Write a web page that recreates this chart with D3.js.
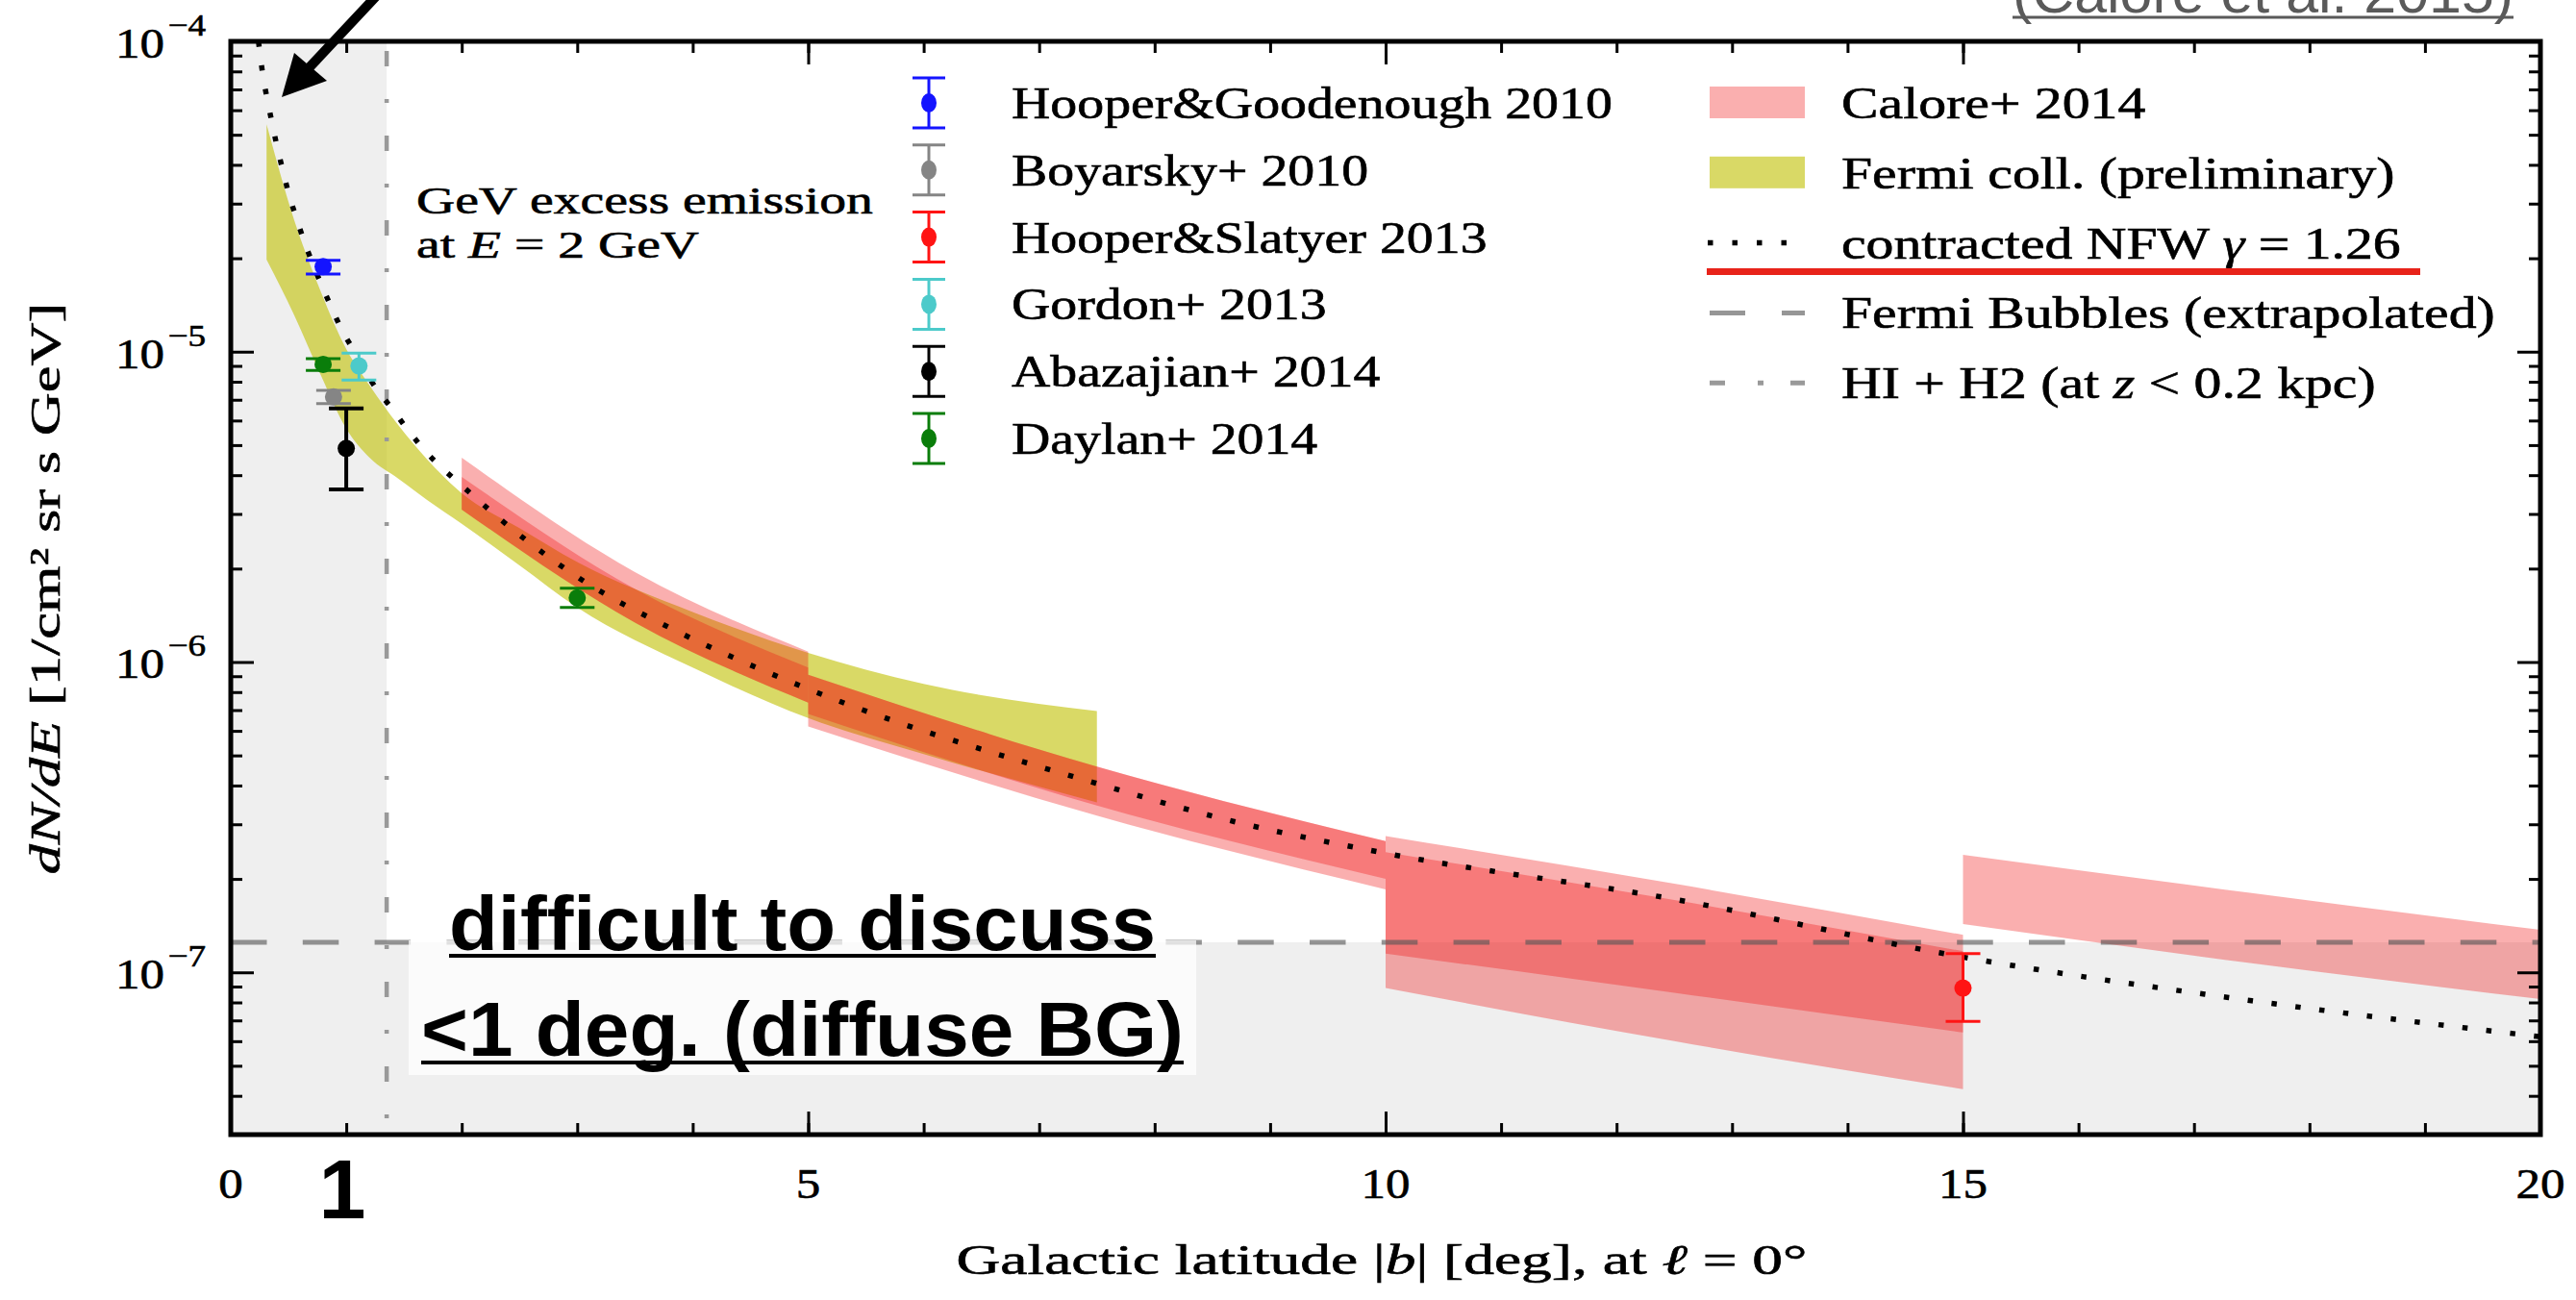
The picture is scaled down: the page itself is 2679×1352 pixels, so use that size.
<!DOCTYPE html>
<html lang="en">
<head>
  <meta charset="UTF-8">
  <title>GeV excess vs latitude</title>
  <script src="https://cdn.jsdelivr.net/npm/d3@7"></script>
  <style>
    body { margin: 0; background: #fff; }
    svg { display: block; }
    .serif { font-family: 'Liberation Serif', 'Times New Roman', serif; stroke: #000; stroke-width: 0.6px; }
    .sans { font-family: 'Liberation Sans', Arial, sans-serif; }
  </style>
</head>
<body>
  <svg width="2679" height="1352"></svg>
  <script>
    // |b| in deg, dN/dE in 1/(cm2 sr s GeV) at E = 2 GeV

    // contracted NFW gamma = 1.26
    var nfwB = [0.24, 0.28, 0.32, 0.36, 0.40, 0.45, 0.50, 0.56, 0.63, 0.78, 0.86, 0.95, 1.05, 1.26, 1.39, 1.51, 1.64, 2.09, 2.57, 3.09, 3.80, 4.96, 7.49, 8.69, 10, 12.5, 15, 17.5, 20]
    var nfwFlux = [1.0e-4, 7.7e-5, 6.4e-5, 5.4e-5, 4.6e-5, 3.85e-5, 3.25e-5, 2.75e-5, 2.3e-5, 1.66e-5, 1.42e-5, 1.2e-5, 1.03e-5, 7.6e-6, 6.6e-6, 5.75e-6, 5.0e-6, 3.46e-6, 2.45e-6, 1.79e-6, 1.29e-6, 8.3e-7, 4.07e-7, 3.06e-7, 2.42e-7, 1.72e-7, 1.12e-7, 8.1e-8, 6.2e-8]

    // Fermi coll. (preliminary) band
    var fermiB = [0.31, 0.55, 0.78, 1.0, 1.2, 1.45, 1.7, 2.0, 2.5, 3.0, 4.0, 5.0, 6.0, 7.5]
    var fermiHi = [5.4e-5, 2.65e-5, 1.56e-5, 1.02e-5, 7.8e-6, 5.8e-6, 4.5e-6, 3.5e-6, 2.7e-6, 2.1e-6, 1.45e-6, 1.07e-6, 8.5e-7, 6.95e-7]
    var fermiLo = [1.98e-5, 1.31e-5, 8.4e-6, 5.65e-6, 4.56e-6, 3.9e-6, 3.33e-6, 2.79e-6, 2.05e-6, 1.5e-6, 9.6e-7, 6.6e-7, 5.05e-7, 3.53e-7]

    // Calore+ 2014: two overlapping ranges (a, b) per latitude bin
    var calB = [[2, 3.5, 5], [5, 7.5, 10], [10, 12.5, 15], [15, 17.5, 20]]
    var calAHi = [[4.55e-6, 1.95e-6, 1.08e-6], [9.1e-7, 4.6e-7, 2.65e-7], [2.75e-7, 1.93e-7, 1.32e-7], [2.39e-7, 1.8e-7, 1.37e-7]]
    var calALo = [[3.1e-6, 1.34e-6, 7.4e-7], [6.2e-7, 3.2e-7, 1.85e-7], [1.15e-7, 8.6e-8, 6.4e-8], [1.43e-7, 1.07e-7, 8.2e-8]]
    var calBHi = [[3.95e-6, 1.72e-6, 9.6e-7], [9.1e-7, 4.6e-7, 2.65e-7], [2.44e-7, 1.71e-7, 1.17e-7], null]
    var calBLo = [[3.1e-6, 1.34e-6, 7.4e-7], [6.8e-7, 3.45e-7, 2.0e-7], [8.9e-8, 6.0e-8, 4.2e-8], null]

    // measurements with error bars
    var refs = ['Hooper&Goodenough 2010', 'Boyarsky+ 2010', 'Hooper&Slatyer 2013', 'Gordon+ 2013', 'Abazajian+ 2014', 'Daylan+ 2014']
    var refColors = ['#1414ff', '#858585', '#ff1414', '#4ccaca', '#000000', '#0a7d0a']
    var ptB = [[0.80], [0.89], [15.0], [1.11], [1.0], [0.80, 3.0]]
    var ptFlux = [[1.88e-5], [7.15e-6], [8.9e-8], [9.0e-6], [4.88e-6], [9.1e-6, 1.61e-6]]
    var ptLo = [[1.78e-5], [6.8e-6], [6.95e-8], [8.1e-6], [3.6e-6], [8.7e-6, 1.5e-6]]
    var ptHi = [[1.97e-5], [7.5e-6], [1.15e-7], [9.9e-6], [6.56e-6], [9.5e-6, 1.73e-6]]

    var bubbleLevel = 1.25e-7   // Fermi Bubbles (extrapolated)
    var hiH2Edge = 1.35         // HI + H2 (at z < 0.2 kpc)

    var xMajor = [0, 5, 10, 15, 20]
    var xMinor = d3.range(0, 21)
    var yMajor = [1e-7, 1e-6, 1e-5, 1e-4]

    var RED = '#f01414'
    var YEL = '#bfbf00'

    var svg = d3.select('svg')
    var x = d3.scaleLinear().domain([0, 20]).range([240, 2642])
    var y = d3.scaleLog().domain([3e-8, 1e-4]).range([1180, 43])
    var X0 = x.range()[0], X1 = x.range()[1], Y0 = y.range()[1], Y1 = y.range()[0]

    svg.append('defs').append('clipPath').attr('id', 'plot')
      .append('rect').attr('x', X0).attr('y', Y0).attr('width', X1 - X0).attr('height', Y1 - Y0)
    var plot = svg.append('g').attr('clip-path', 'url(#plot)')

    // shaded regions
    plot.append('rect').attr('x', X0).attr('y', Y0)
      .attr('width', x(hiH2Edge) - X0).attr('height', Y1 - Y0).attr('fill', '#efefef')
    plot.append('rect').attr('x', X0).attr('y', y(bubbleLevel))
      .attr('width', X1 - X0).attr('height', Y1 - y(bubbleLevel)).attr('fill', '#efefef')

    var area = d3.area()
      .x(d => x(d[0])).y0(d => y(d[1])).y1(d => y(d[2]))
      .curve(d3.curveMonotoneX)

    plot.append('path')
      .datum(d3.zip(fermiB, fermiLo, fermiHi))
      .attr('d', area).attr('fill', YEL).attr('fill-opacity', 0.6)

    calB.forEach((b, i) => {
      plot.append('path')
        .datum(d3.zip(b, calALo[i], calAHi[i]))
        .attr('d', area).attr('fill', RED).attr('fill-opacity', 0.34)
      if (calBLo[i]) {
        plot.append('path')
          .datum(d3.zip(b, calBLo[i], calBHi[i]))
          .attr('d', area).attr('fill', RED).attr('fill-opacity', 0.34)
      }
    })

    // Fermi bubbles level
    plot.append('line')
      .attr('x1', X0).attr('x2', X1)
      .attr('y1', y(bubbleLevel)).attr('y2', y(bubbleLevel))
      .attr('stroke', '#555').attr('stroke-opacity', 0.62)
      .attr('stroke-width', 5).attr('stroke-dasharray', '37.5 37.3')

    // HI + H2 boundary
    plot.append('line')
      .attr('x1', x(hiH2Edge)).attr('x2', x(hiH2Edge))
      .attr('y1', Y0).attr('y2', Y1)
      .attr('stroke', '#999').attr('stroke-width', 4.5)
      .attr('stroke-dasharray', '16 34 4 34').attr('stroke-dashoffset', -10)

    // NFW profile
    var line = d3.line().x(d => x(d[0])).y(d => y(d[1])).curve(d3.curveMonotoneX)
    plot.append('path')
      .datum(d3.zip(nfwB, nfwFlux))
      .attr('d', line).attr('fill', 'none')
      .attr('stroke', '#000').attr('stroke-width', 5.5)
      .attr('stroke-dasharray', '5.5 19.5')

    // error bars
    refs.forEach((r, i) => {
      var pts = d3.zip(ptB[i], ptFlux[i], ptLo[i], ptHi[i])
      var g = plot.append('g').attr('stroke', refColors[i]).attr('fill', refColors[i])
        .attr('stroke-width', i == 4 ? 4 : 3)
      pts.forEach(p => {
        var cx = x(p[0])
        g.append('line').attr('x1', cx).attr('x2', cx).attr('y1', y(p[2])).attr('y2', y(p[3]))
        g.append('line').attr('x1', cx - 18).attr('x2', cx + 18).attr('y1', y(p[2])).attr('y2', y(p[2]))
        g.append('line').attr('x1', cx - 18).attr('x2', cx + 18).attr('y1', y(p[3])).attr('y2', y(p[3]))
        g.append('circle').attr('cx', cx).attr('cy', y(p[1])).attr('r', 9).attr('stroke', 'none')
      })
    })

    // slide overlay box behind the note
    svg.append('rect').attr('x', 425).attr('y', 978).attr('width', 819).attr('height', 140)
      .attr('fill', '#fff').attr('fill-opacity', 0.72)

    // frame and ticks
    var frame = svg.append('g')
    function ticks(axis, tr, size) {
      frame.append('g').attr('transform', tr)
        .call(axis.tickSizeInner(size).tickSizeOuter(0).tickFormat(''))
        .call(g => g.select('.domain').remove())
        .call(g => g.selectAll('line').attr('stroke', '#000').attr('stroke-width', 3))
    }
    var yMinor = []
    d3.range(-8, -4).forEach(e => d3.range(2, 10).forEach(m => {
      var v = m * Math.pow(10, e)
      if (v > 3.01e-8 && v < 1e-4) yMinor.push(v)
    }))
    ticks(d3.axisBottom(x).tickValues(xMajor), `translate(0,${Y1})`, -24)
    ticks(d3.axisBottom(x).tickValues(xMinor), `translate(0,${Y1})`, -12)
    ticks(d3.axisTop(x).tickValues(xMajor), `translate(0,${Y0})`, -24)
    ticks(d3.axisTop(x).tickValues(xMinor), `translate(0,${Y0})`, -12)
    ticks(d3.axisLeft(y).tickValues(yMajor), `translate(${X0},0)`, -24)
    ticks(d3.axisLeft(y).tickValues(yMinor), `translate(${X0},0)`, -12)
    ticks(d3.axisRight(y).tickValues(yMajor), `translate(${X1},0)`, -24)
    ticks(d3.axisRight(y).tickValues(yMinor), `translate(${X1},0)`, -12)
    frame.append('rect').attr('x', X0).attr('y', Y0).attr('width', X1 - X0).attr('height', Y1 - Y0)
      .attr('fill', 'none').attr('stroke', '#000').attr('stroke-width', 5)

    var SX = 1.16
    frame.selectAll('.xl').data(xMajor).join('text')
      .attr('class', 'serif').attr('font-size', 44).attr('text-anchor', 'middle')
      .attr('transform', d => `translate(${x(d)},1246) scale(${SX},1)`)
      .text(d => d)

    var yl = frame.selectAll('.yl').data(yMajor).join('text')
      .attr('class', 'serif').attr('font-size', 44).attr('text-anchor', 'end')
      .attr('transform', d => `translate(214,${y(d) + 17}) scale(${SX},1)`)
    yl.append('tspan').text('10')
    yl.append('tspan').attr('dy', -23).attr('font-size', 32).attr('dx', 3)
      .text(d => '\u2212' + Math.round(-Math.log10(d)))

    function fit(t, w) {
      return w / t.node().getComputedTextLength()
    }

    // axis titles
    var xt = svg.append('text').attr('class', 'serif').attr('font-size', 44).attr('text-anchor', 'middle')
    xt.append('tspan').text('Galactic latitude |')
    xt.append('tspan').attr('font-style', 'italic').text('b')
    xt.append('tspan').text('| [deg], at ')
    xt.append('tspan').attr('font-style', 'italic').text('\u2113')
    xt.append('tspan').text(' = 0\u00b0')
    xt.attr('transform', `translate(1437,1325) scale(${fit(xt, 885)},1)`)

    var yt = svg.append('text').attr('class', 'serif').attr('font-size', 44).attr('text-anchor', 'middle')
    yt.append('tspan').attr('font-style', 'italic').text('dN/dE')
    yt.append('tspan').text(' [1/cm\u00b2 sr s GeV]')
    yt.attr('transform', `translate(62,612) rotate(-90) scale(${fit(yt, 595)},1)`)

    // GeV note
    var n1 = svg.append('text').attr('class', 'serif').attr('font-size', 41).text('GeV excess emission')
    var ns = fit(n1, 475)
    n1.attr('transform', `translate(433,222) scale(${ns},1)`)
    var n2 = svg.append('text').attr('class', 'serif').attr('font-size', 41)
      .attr('transform', `translate(433,268) scale(${ns},1)`)
    n2.append('tspan').text('at ')
    n2.append('tspan').attr('font-style', 'italic').text('E')
    n2.append('tspan').text(' = 2 GeV')

    // legend: measurements
    var leg1 = svg.append('g')
    var LS1 = 1
    refs.forEach((r, i) => {
      var cy = 107 + i * 69.8
      var g = leg1.append('g').attr('stroke', refColors[i]).attr('fill', refColors[i]).attr('stroke-width', 3)
      g.append('line').attr('x1', 966).attr('x2', 966).attr('y1', cy - 26).attr('y2', cy + 26)
      g.append('line').attr('x1', 949).attr('x2', 983).attr('y1', cy - 26).attr('y2', cy - 26)
      g.append('line').attr('x1', 949).attr('x2', 983).attr('y1', cy + 26).attr('y2', cy + 26)
      g.append('ellipse').attr('cx', 966).attr('cy', cy).attr('rx', 8).attr('ry', 10).attr('stroke', 'none')
      var t = leg1.append('text').attr('class', 'serif').attr('font-size', 46).text(r)
      if (i == 0) LS1 = fit(t, 625)
      t.attr('transform', `translate(1052,${cy + 16}) scale(${LS1},1)`)
    })

    // legend: bands and lines
    var leg2 = svg.append('g')
    var rowY = i => 107 + i * 72.8
    leg2.append('rect').attr('x', 1778).attr('y', rowY(0) - 17).attr('width', 99).attr('height', 33)
      .attr('fill', RED).attr('fill-opacity', 0.34)
    leg2.append('rect').attr('x', 1778).attr('y', rowY(1) - 17).attr('width', 99).attr('height', 33)
      .attr('fill', YEL).attr('fill-opacity', 0.6)
    leg2.append('line').attr('x1', 1776).attr('x2', 1862).attr('y1', rowY(2)).attr('y2', rowY(2))
      .attr('stroke', '#000').attr('stroke-width', 5.5).attr('stroke-dasharray', '5.5 20')
    leg2.append('line').attr('x1', 1778).attr('x2', 1877).attr('y1', rowY(3)).attr('y2', rowY(3))
      .attr('stroke', '#555').attr('stroke-opacity', 0.62).attr('stroke-width', 5).attr('stroke-dasharray', '37 38')
    leg2.append('line').attr('x1', 1778).attr('x2', 1877).attr('y1', rowY(4)).attr('y2', rowY(4))
      .attr('stroke', '#999').attr('stroke-width', 5).attr('stroke-dasharray', '16 34 6 28 16')

    var legTexts = []
    function legText(i) {
      var t = leg2.append('text').attr('class', 'serif').attr('font-size', 46)
      legTexts.push([t, i])
      return t
    }
    legText(0).text('Calore+ 2014')
    legText(1).text('Fermi coll. (preliminary)')
    var t2 = legText(2)
    t2.append('tspan').text('contracted NFW ')
    t2.append('tspan').attr('font-style', 'italic').text('\u03b3')
    t2.append('tspan').text(' = 1.26')
    var t3 = legText(3).text('Fermi Bubbles (extrapolated)')
    var t4 = legText(4)
    t4.append('tspan').text('HI + H2 (at ')
    t4.append('tspan').attr('font-style', 'italic').text('z')
    t4.append('tspan').text(' < 0.2 kpc)')
    var LS2 = fit(t3, 680)
    legTexts.forEach(d => d[0].attr('transform', `translate(1915,${rowY(d[1]) + 16}) scale(${LS2},1)`))

    // slide annotations
    var note = svg.append('g')
    note.append('rect').attr('x', 1775).attr('y', 279).attr('width', 742).attr('height', 7).attr('fill', '#e8231a')

    note.append('text').attr('class', 'sans').attr('font-size', 80).attr('font-weight', 'bold')
      .attr('x', 467).attr('y', 988).attr('textLength', 735).attr('lengthAdjust', 'spacingAndGlyphs')
      .text('difficult to discuss')
    note.append('line').attr('x1', 467).attr('x2', 1202).attr('y1', 994).attr('y2', 994)
      .attr('stroke', '#000').attr('stroke-width', 4)
    note.append('text').attr('class', 'sans').attr('font-size', 80).attr('font-weight', 'bold')
      .attr('x', 438).attr('y', 1098).attr('textLength', 793).attr('lengthAdjust', 'spacingAndGlyphs')
      .text('<1 deg. (diffuse BG)')
    note.append('line').attr('x1', 438).attr('x2', 1231).attr('y1', 1105).attr('y2', 1105)
      .attr('stroke', '#000').attr('stroke-width', 4)

    note.append('text').attr('class', 'sans').attr('font-size', 88).attr('font-weight', 'bold')
      .attr('text-anchor', 'middle').attr('x', 356).attr('y', 1267).text('1')

    note.append('text').attr('class', 'sans').attr('font-size', 60).attr('fill', '#5a5a5a')
      .attr('x', 2093).attr('y', 13).attr('textLength', 521).attr('lengthAdjust', 'spacingAndGlyphs')
      .text('(Calore et al. 2015)')
    note.append('line').attr('x1', 2093).attr('x2', 2614).attr('y1', 18).attr('y2', 18)
      .attr('stroke', '#5a5a5a').attr('stroke-width', 3)

    // arrow to the NFW curve
    note.append('line').attr('x1', 395).attr('y1', -8).attr('x2', 320).attr('y2', 72)
      .attr('stroke', '#000').attr('stroke-width', 10)
    note.append('path').attr('d', 'M293,101 L306,55 L340,84 Z').attr('fill', '#000')
  </script>
</body>
</html>
